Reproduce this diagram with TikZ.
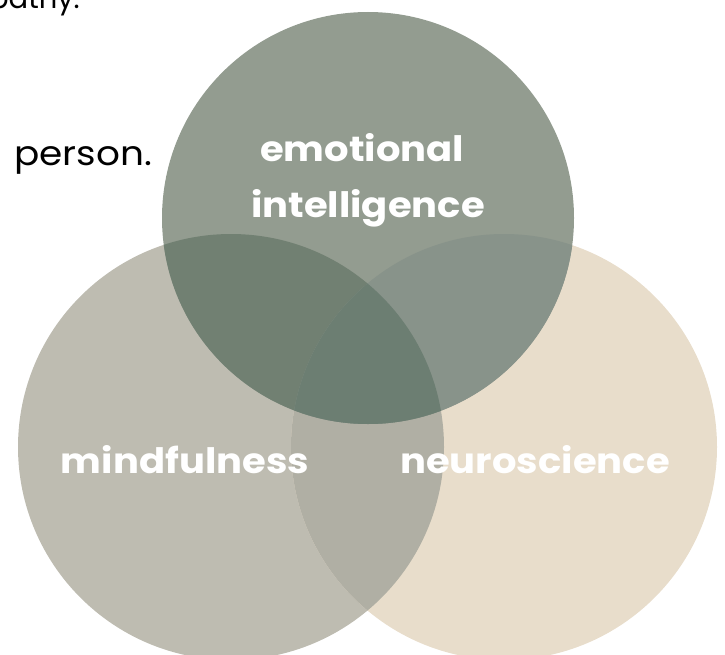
\documentclass[tikz,border=0pt]{standalone}
\usepackage{fontspec}
\setmainfont{Poppins}
\definecolor{cT}{HTML}{939C90}
\definecolor{cL}{HTML}{BEBCB1}
\definecolor{cR}{HTML}{E8DDCB}
\definecolor{cTL}{HTML}{718072}
\definecolor{cTR}{HTML}{88938A}
\definecolor{cLR}{HTML}{B0AFA4}
\definecolor{cTLR}{HTML}{6C7E72}
\newcommand{\wide}[1]{\scalebox{1.1}[1]{#1}}
\begin{document}
\begin{tikzpicture}[x=1pt,y=-1pt,
  lbl/.style={text=white,font=\fontsize{35}{35}\selectfont\bfseries,anchor=base,inner sep=0pt},
  body/.style={text=black,font=\fontsize{34}{34}\selectfont,inner sep=0pt}]
\useasboundingbox (0,0) rectangle (725,655);
\clip (0,0) rectangle (725,655);
\coordinate (T) at (368,218);
\coordinate (L) at (231,447);
\coordinate (R) at (504,447);
\def\rT{206pt}
\def\rB{213pt}
% single circles
\fill[cL] (L) circle[radius=\rB];
\fill[cR] (R) circle[radius=\rB];
\fill[cT] (T) circle[radius=\rT];
% pair overlaps
\begin{scope}
  \clip (L) circle[radius=\rB];
  \fill[cLR] (R) circle[radius=\rB];
\end{scope}
\begin{scope}
  \clip (L) circle[radius=\rB];
  \fill[cTL] (T) circle[radius=\rT];
\end{scope}
\begin{scope}
  \clip (R) circle[radius=\rB];
  \fill[cTR] (T) circle[radius=\rT];
\end{scope}
\begin{scope}
  \clip (L) circle[radius=\rB];
  \clip (R) circle[radius=\rB];
  \fill[cTLR] (T) circle[radius=\rT];
\end{scope}
% labels
\node[lbl] (ei1) at (362,162) {\wide{emotional}};
\node[lbl] (ei2) at (368,218) {\wide{intelligence}};
\node[lbl] (mf) at (185,473) {\wide{mindfulness}};
\node[lbl] (ns) at (535,473) {\wide{neuroscience}};
% body text
\node[body,anchor=base west] (pers) at (14,166) {\wide{person.}};
\node[body,anchor=base east,font=\fontsize{29}{29}\selectfont] (emp) at (80,9) {empathy.};
\end{tikzpicture}
\end{document}
